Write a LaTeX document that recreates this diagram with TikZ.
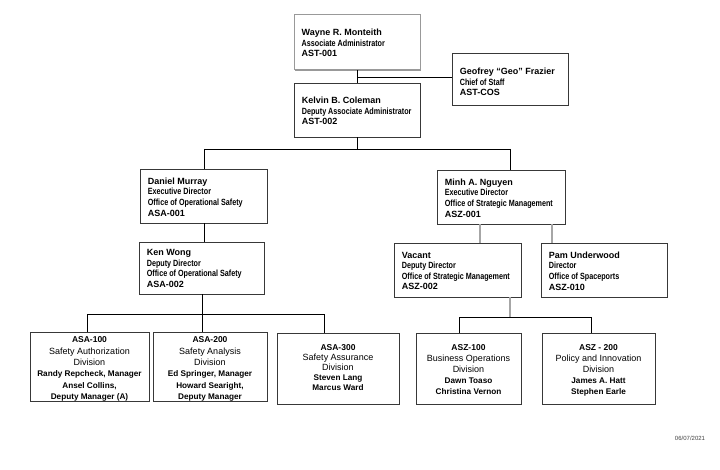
\documentclass[tikz,border=0pt]{standalone}
\usepackage{fontspec}
\setmainfont{Liberation Sans}
\newfontfamily\narrowfont[FakeStretch=0.8]{Liberation Sans}
\usetikzlibrary{shadows}
\newcommand\dbs{11.5}
\newcommand\nmline[1]{{\fontsize{9}{10.6}\selectfont\bfseries #1}}
\newcommand\ttline[1]{{\narrowfont\bfseries\fontsize{9}{10.6}\selectfont #1}}
\newcommand\dcode[1]{{\fontsize{8.5}{\dbs}\selectfont\bfseries #1}}
\newcommand\dtxt[1]{{\fontsize{9}{\dbs}\selectfont #1}}
\newcommand\dname[1]{{\fontsize{8.2}{\dbs}\selectfont\bfseries #1}}
\tikzset{
  box/.style={draw=black!78, line width=0.7pt, fill=white,
    drop shadow={shadow xshift=1.2pt,shadow yshift=-1.2pt,fill=black!40,opacity=1},
    inner sep=0pt, text=black},
  toptext/.style={align=left, inner sep=0pt, text=black, font=\fontsize{9}{10.6}\selectfont},
  divtext/.style={align=center, inner sep=0pt, text=black},
  ln/.style={draw=black, line width=0.8pt},
  gln/.style={draw=black!35, line width=1.3pt},
}
% [box options]{name}{centre}{width}{height}{text yshift}{text}
\newcommand\topbox[7][]{%
  \node[box, minimum width=#4, minimum height=#5, #1] (#2) at #3 {};
  \node[toptext, anchor=west] (#2-t) at ([xshift=8pt,yshift=#6]#2.west) {#7};
}
% {name}{centre}{width}{height}{top gap}{baselineskip}{text}
\newcommand\divbox[7]{%
  \node[box, minimum width=#3, minimum height=#4] (#1) at #2 {};
  \node[divtext, anchor=north, font={\def\dbs{#6}\fontsize{9}{#6}\selectfont}] (#1-t) at ([yshift=-#5]#1.north) {#7};
}
\begin{document}
\begin{tikzpicture}[x=1pt,y=-1pt]
\useasboundingbox[fill=white] (0,0) rectangle (720,470);

% top level
\topbox[draw=black!40, line width=1pt, drop shadow={opacity=0}]{wayne}{(357,42.5)}{126pt}{55pt}{-0.5pt}
  {\nmline{Wayne R. Monteith}\\\ttline{Associate Administrator}\\\nmline{AST-001}}
\topbox{geo}{(510,79)}{116pt}{52pt}{-3pt}
  {\nmline{Geofrey “Geo” Frazier}\\\ttline{Chief of Staff}\\\nmline{AST-COS}}
\topbox{kelvin}{(357,110)}{126pt}{54pt}{-1pt}
  {\nmline{Kelvin B. Coleman}\\\ttline{Deputy Associate Administrator}\\\nmline{AST-002}}

% second level
\topbox{daniel}{(203.5,196)}{127pt}{54pt}{-1pt}
  {\nmline{Daniel Murray}\\\ttline{Executive Director}\\\ttline{Office of Operational Safety}\\\nmline{ASA-001}}
\topbox{minh}{(501,197)}{128pt}{54pt}{-1pt}
  {\nmline{Minh A. Nguyen}\\\ttline{Executive Director}\\\ttline{Office of Strategic Management}\\\nmline{ASZ-001}}

% third level
\topbox{ken}{(201.5,268)}{125pt}{52pt}{-0.5pt}
  {\nmline{Ken Wong}\\\ttline{Deputy Director}\\\ttline{Office of Operational Safety}\\\nmline{ASA-002}}
\topbox{vacant}{(457.5,270)}{127pt}{54pt}{-1pt}
  {\nmline{Vacant}\\\ttline{Deputy Director}\\\ttline{Office of Strategic Management}\\\nmline{ASZ-002}}
\topbox{pam}{(604,270)}{126pt}{54pt}{-1pt}
  {\nmline{Pam Underwood}\\\ttline{Director}\\\ttline{Office of Spaceports}\\\nmline{ASZ-010}}

% divisions
\divbox{asa100}{(89.5,366.5)}{119pt}{69pt}{5pt}{11.4}
  {\dcode{ASA-100}\\\dtxt{Safety Authorization}\\\dtxt{Division}\\\dname{Randy Repcheck, Manager}\\\dname{Ansel Collins,}\\\dname{Deputy Manager (A)}}
\divbox{asa200}{(210,366.5)}{114pt}{69pt}{5pt}{11.4}
  {\dcode{ASA-200}\\\dtxt{Safety Analysis}\\\dtxt{Division}\\\dname{Ed Springer, Manager}\\\dname{Howard Searight,}\\\dname{Deputy Manager}}
\divbox{asa300}{(338,368.5)}{122pt}{71pt}{12pt}{10}
  {\dcode{ASA-300}\\\dtxt{Safety Assurance}\\\dtxt{Division}\\\dname{Steven Lang}\\\dname{Marcus Ward}}
\divbox{asz100}{(468.5,368.5)}{105pt}{71pt}{12pt}{11}
  {\dcode{ASZ-100}\\\dtxt{Business Operations}\\\dtxt{Division}\\\dname{Dawn Toaso}\\\dname{Christina Vernon}}
\divbox{asz200}{(598.5,368.5)}{113pt}{71pt}{12pt}{11}
  {\dcode{ASZ - 200}\\\dtxt{Policy and Innovation}\\\dtxt{Division}\\\dname{James A. Hatt}\\\dname{Stephen Earle}}

\node[font=\fontsize{6}{7}\selectfont, text=black!75, inner sep=0pt] (date) at (690,438) {06/07/2021};

% connectors
\coordinate (cw) at (357,77);
\draw[ln] (wayne.south) -- (kelvin.north);
\draw[ln] (cw) -- (cw -| geo.west);

\coordinate (b1) at (357,149);
\coordinate (b1l) at (204,149);
\coordinate (b1r) at (510,149);
\draw[ln] (kelvin.south) -- (b1);
\draw[ln] (b1l) -- (b1r);
\draw[ln] (b1l) -- (b1l |- daniel.north);
\draw[ln] (b1r) -- (b1r |- minh.north);

\coordinate (dk) at (204,0);
\draw[ln] (dk |- daniel.south) -- (dk |- ken.north);

\coordinate (b2) at (202,314);
\coordinate (b2a) at (87,314);
\coordinate (b2b) at (202,314);
\coordinate (b2c) at (324,314);
\draw[ln] (b2 |- ken.south) -- (b2);
\draw[ln] (b2a) -- (b2c);
\draw[ln] (b2a) -- (b2a |- asa100.north);
\draw[ln] (b2b) -- (b2b |- asa200.north);
\draw[ln] (b2c) -- (b2c |- asa300.north);

\coordinate (mv) at (480,0);
\coordinate (mp) at (552,0);
\draw[gln] (mv |- minh.south) -- (mv |- vacant.north);
\draw[gln] (mp |- minh.south) -- (mp |- pam.north);

\coordinate (b3) at (510,317);
\coordinate (b3a) at (459,317);
\coordinate (b3b) at (591,317);
\draw[gln] (b3 |- vacant.south) -- (b3);
\draw[ln] (b3a) -- (b3b);
\draw[ln] (b3a) -- (b3a |- asz100.north);
\draw[ln] (b3b) -- (b3b |- asz200.north);
\end{tikzpicture}
\end{document}
